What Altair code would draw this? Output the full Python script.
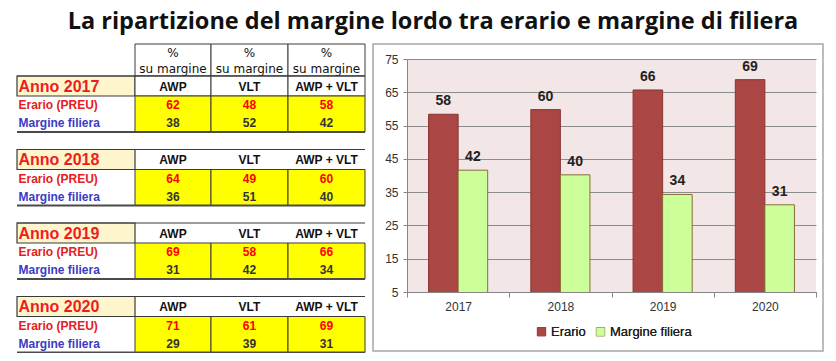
import altair as alt
import pandas as pd

# ---------------- data ----------------
title_text = "La ripartizione del margine lordo tra erario e margine di filiera"
years = ["2017", "2018", "2019", "2020"]
table_cols = ["AWP", "VLT", "AWP + VLT"]
erario_tab = [[62, 48, 58], [64, 49, 60], [69, 58, 66], [71, 61, 69]]
filiera_tab = [[38, 52, 42], [36, 51, 40], [31, 42, 34], [29, 39, 31]]
row_labels = ["Erario (PREU)", "Margine filiera"]
series = ["Erario", "Margine filiera"]
erario_bar = [58.4, 59.8, 65.7, 68.8]
filiera_bar = [41.6, 40.2, 34.3, 31.2]
y_ticks = [5, 15, 25, 35, 45, 55, 65, 75]

# ---------------- table layout (table units = px) ----------------
LABEL_W = 118
COL_W = [76, 77, 77]
HDR_H = 32
BLOCK_STEP = 73.5
ROW_A = 20
ROW_D = 18
TABLE_W = LABEL_W + sum(COL_W)
TEXT_X = 1.5

col_x0 = [LABEL_W, LABEL_W + COL_W[0], LABEL_W + COL_W[0] + COL_W[1]]
col_x1 = [c + w for c, w in zip(col_x0, COL_W)]

hdr_rows, anno_rows, colhdr_rows, cell_rows, val_rows, lab_rows, line_rows = [], [], [], [], [], [], []
for j, c in enumerate(table_cols):
    hdr_rows.append(dict(x0=col_x0[j], x1=col_x1[j], y0=0, y1=HDR_H,
                         xc=(col_x0[j] + col_x1[j]) / 2, y_a=9, y_b=24.5,
                         t1="%", t2="su margine"))
for i, yr in enumerate(years):
    bt = HDR_H + i * BLOCK_STEP
    anno_rows.append(dict(x0=0, x1=LABEL_W, y0=bt, y1=bt + ROW_A, yc=bt + ROW_A / 2 + 0.5,
                          xt=TEXT_X, t=f"Anno {yr}"))
    line_rows.append(dict(x0=0, x1=TABLE_W, ytop=bt, ybot=bt + ROW_A + 2 * ROW_D, first=(i == 0)))
    for j, c in enumerate(table_cols):
        xc = (col_x0[j] + col_x1[j]) / 2
        colhdr_rows.append(dict(x0=col_x0[j], x1=col_x1[j], y0=bt, y1=bt + ROW_A,
                                xc=xc, yc=bt + ROW_A / 2 + 0.5, t=c, first=(i == 0)))
        cell_rows.append(dict(x0=col_x0[j], x1=col_x1[j], y0=bt + ROW_A, y1=bt + ROW_A + 2 * ROW_D))
        val_rows.append(dict(xc=xc, yc=bt + ROW_A + ROW_D / 2, v=erario_tab[i][j], s=series[0]))
        val_rows.append(dict(xc=xc, yc=bt + ROW_A + 1.5 * ROW_D, v=filiera_tab[i][j], s=series[1]))
    lab_rows.append(dict(xt=TEXT_X, yc=bt + ROW_A + ROW_D / 2, t=row_labels[0], s=series[0]))
    lab_rows.append(dict(xt=TEXT_X, yc=bt + ROW_A + 1.5 * ROW_D, t=row_labels[1], s=series[1]))

hdr_df = pd.DataFrame(hdr_rows)
anno_df = pd.DataFrame(anno_rows)
colhdr_df = pd.DataFrame(colhdr_rows)
cell_df = pd.DataFrame(cell_rows)
val_df = pd.DataFrame(val_rows)
lab_df = pd.DataFrame(lab_rows)
line_df = pd.DataFrame(line_rows)

TX = alt.Scale(domain=[0, TABLE_W], range=[-390, -42])
TY = alt.Scale(domain=[0, 310], range=[-15, 295])


def tx(f):
    return alt.X(f"{f}:Q", scale=TX, axis=None)


def ty(f):
    return alt.Y(f"{f}:Q", scale=TY, axis=None)


TFONT = "Liberation Sans"
BORDER = "#3a3a3a"

hdr_cells = alt.Chart(hdr_df).mark_rect(fill="white", stroke=BORDER, strokeWidth=1).encode(
    x=tx("x0"), x2="x1:Q", y=ty("y0"), y2="y1:Q")
hdr_t1 = alt.Chart(hdr_df).mark_text(font="DejaVu Sans", fontSize=12, color="#111").encode(
    x=tx("xc"), y=ty("y_a"), text="t1:N")
hdr_t2 = alt.Chart(hdr_df).mark_text(font="DejaVu Sans", fontSize=12, color="#111").encode(
    x=tx("xc"), y=ty("y_b"), text="t2:N")

anno_cells = alt.Chart(anno_df).mark_rect(fill="#FFF5CC", stroke=BORDER, strokeWidth=1.2).encode(
    x=tx("x0"), x2="x1:Q", y=ty("y0"), y2="y1:Q")
anno_text = alt.Chart(anno_df).mark_text(font=TFONT, fontSize=16, fontWeight="bold", color="#EE1D1D",
                                          align="left").encode(
    x=tx("xt"), y=ty("yc"), text="t:N")

colhdr_first = alt.Chart(colhdr_df).transform_filter("datum.first").mark_rect(
    fill="white", stroke=BORDER, strokeWidth=1).encode(
    x=tx("x0"), x2="x1:Q", y=ty("y0"), y2="y1:Q")
top_lines = alt.Chart(line_df).mark_rule(color=BORDER, strokeWidth=1.2).encode(
    x=tx("x0"), x2="x1:Q", y=ty("ytop"))
colhdr_text = alt.Chart(colhdr_df).mark_text(font=TFONT, fontSize=12, fontWeight="bold", color="#111").encode(
    x=tx("xc"), y=ty("yc"), text="t:N")

data_cells = alt.Chart(cell_df).mark_rect(fill="#FFFF00", stroke=BORDER, strokeWidth=1).encode(
    x=tx("x0"), x2="x1:Q", y=ty("y0"), y2="y1:Q")
bottom_lines = alt.Chart(line_df).mark_rule(color="#4a4a4a", strokeWidth=2).encode(
    x=tx("x0"), x2="x1:Q", y=ty("ybot"))

val_text = alt.Chart(val_df).mark_text(font=TFONT, fontSize=12, fontWeight="bold").encode(
    x=tx("xc"), y=ty("yc"), text="v:Q",
    color=alt.Color("s:N", scale=alt.Scale(domain=series, range=["#FF0000", "#333333"]), legend=None))
lab_text = alt.Chart(lab_df).mark_text(font=TFONT, fontSize=12, fontWeight="bold", align="left").encode(
    x=tx("xt"), y=ty("yc"), text="t:N",
    color=alt.Color("s:N", scale=alt.Scale(domain=series, range=["#E62020", "#3B3BC4"]), legend=None))

# ---------------- bar chart ----------------
bars_df = pd.DataFrame({
    "anno": years * 2,
    "serie": [series[0]] * len(years) + [series[1]] * len(years),
    "valore": erario_bar + filiera_bar,
})

CFONT = "Liberation Sans"
legend_kw = dict(title=None, orient="none", legendX=128, legendY=266, direction="horizontal",
                 symbolType="square", symbolSize=70, labelFont=CFONT, labelFontSize=13,
                 labelColor="#222", columnPadding=8, labelOffset=3, symbolStrokeWidth=1)

base = alt.Chart(bars_df).encode(
    x=alt.X("anno:N", title=None, sort=years,
            scale=alt.Scale(paddingInner=0, paddingOuter=0),
            axis=alt.Axis(labelAngle=0, tickBand="extent", tickSize=5, tickColor="#868686",
                          domainColor="#868686", labelFont=CFONT, labelFontSize=12,
                          labelColor="#333", labelPadding=4, grid=False)),
    xOffset=alt.XOffset("serie:N", sort=series,
                        scale=alt.Scale(domain=series, paddingInner=0, paddingOuter=0.73)),
    y=alt.Y("valore:Q", title=None,
            scale=alt.Scale(domain=[5, 75], zero=False, nice=False),
            axis=alt.Axis(values=y_ticks, tickSize=4, tickColor="#868686", domainColor="#868686",
                          gridColor="#8C8C8C", gridWidth=1, labelFont=CFONT, labelFontSize=12,
                          labelColor="#333", labelPadding=5)),
)
bars = base.mark_bar(strokeWidth=1, clip=True).encode(
    color=alt.Color("serie:N", scale=alt.Scale(domain=series, range=["#AA4643", "#CCFF99"]),
                    legend=alt.Legend(**legend_kw)),
    stroke=alt.Stroke("serie:N", scale=alt.Scale(domain=series, range=["#8A3533", "#8B6A3A"]),
                      legend=alt.Legend(**legend_kw)),
)
labels = base.mark_text(baseline="bottom", dy=-6, font=CFONT, fontSize=14, fontWeight="bold",
                        color="#222").encode(text=alt.Text("valore:Q", format=".0f"))
bar_chart = alt.layer(bars, labels)

# ---------------- decorations ----------------
one = pd.DataFrame({"t": [title_text]})
box = alt.Chart(one).mark_rect(fill="white", fillOpacity=0, stroke="#A6A6A6", strokeWidth=1.5).encode(
    x=alt.value(-34), x2=alt.value(416), y=alt.value(-15), y2=alt.value(292))
title = alt.Chart(one).mark_text(font="Open Sans", fontSize=23.5, fontWeight="bold", color="#111",
                                 baseline="alphabetic").encode(
    x=alt.value(26), y=alt.value(-30.5), text="t:N")

chart = alt.layer(
    bar_chart, box,
    hdr_cells, hdr_t1, hdr_t2,
    anno_cells, colhdr_first, top_lines, data_cells, bottom_lines,
    anno_text, colhdr_text, val_text, lab_text,
    title,
).resolve_scale(x="independent", y="independent", color="independent").properties(
    width=409, height=233,
    autosize=alt.AutoSizeParams(type="none"),
    padding={"left": 399, "top": 51, "right": 12, "bottom": 61},
).configure_view(fill="#F2E6E6", stroke=None)

chart.save("out.html", embed_options={"renderer": "svg", "actions": False})
